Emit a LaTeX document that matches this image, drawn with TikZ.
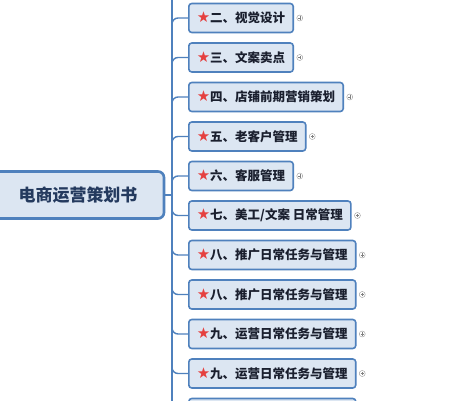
\documentclass[tikz,border=0pt]{standalone}
\usepackage{fontspec}
\setmainfont{Noto Sans CJK SC}
\newfontfamily\symfont{DejaVu Sans}
\usepackage{xcolor}
\usetikzlibrary{positioning}
\definecolor{boxline}{HTML}{4F81BD}
\definecolor{boxfill}{HTML}{DCE6F2}
\definecolor{starred}{HTML}{E5403F}
\definecolor{maintxt}{HTML}{243A5E}
\definecolor{subtxt}{HTML}{1A1F2E}
\newcommand{\redstar}{\textcolor{starred}{\symfont\fontsize{15}{15}\selectfont ★}}

\begin{document}
\begin{tikzpicture}[x=1pt, y=-1pt,
    topic/.style={draw=boxline, line width=2.6pt, fill=boxfill, rounded corners=6pt,
      minimum width=172pt, minimum height=47pt,
      font=\fontsize{17}{17}\selectfont\bfseries, text=maintxt},
    sub/.style={draw=boxline, line width=1.6pt, fill=boxfill, rounded corners=3pt,
      anchor=west, minimum height=29pt, inner xsep=8pt,
      font=\fontsize{12.5}{13}\selectfont\bfseries, text=subtxt},
    branch/.style={draw=boxline, line width=1.4pt, rounded corners=6pt},
    fold/.style={circle, draw=gray!80, line width=0.4pt, inner sep=0pt, minimum size=6pt,
      path picture={\draw[gray, line width=0.4pt]
        ([xshift=-1.7pt]path picture bounding box.center) -- ([xshift=1.7pt]path picture bounding box.center)
        ([yshift=-1.7pt]path picture bounding box.center) -- ([yshift=1.7pt]path picture bounding box.center);}}]
    \useasboundingbox (0,0) rectangle (474,400);
    \clip (0,0) rectangle (474,400);
    \fill[white] (0,0) rectangle (474,400);

    % 主题
    \node[topic] (main) at (78,195) {电商运营策划书};
    \coordinate (J) at (172,195);
    \coordinate (trunktop) at (172,-10);
    \coordinate (trunkbot) at (172,420);
    \draw[branch] (trunktop) -- (trunkbot);
    \draw[branch] (main.east) -- (J);

    % 分支
    \foreach \y/\t [count=\i] in {18/{二、视觉设计}, 57.5/{三、文案卖点}, 97/{四、店铺前期营销策划},
        136.5/{五、老客户管理}, 176/{六、客服管理}, 215.5/{七、美工/文案 日常管理},
        255/{八、推广日常任务与管理}, 294.5/{八、推广日常任务与管理},
        334/{九、运营日常任务与管理}, 373.5/{九、运营日常任务与管理}} {
        \node[sub] (sub\i) at (188,\y) {\redstar\t};
        \node[fold, right=2.5pt of sub\i] (fold\i) {};
        \draw[branch] (J) |- (sub\i.west);
    }
    % 下方露出一截的分支
    \node[sub, minimum width=167pt] (sub11) at (188,413) {};
    \draw[branch] (J) |- (sub11.west);
\end{tikzpicture}
\end{document}
